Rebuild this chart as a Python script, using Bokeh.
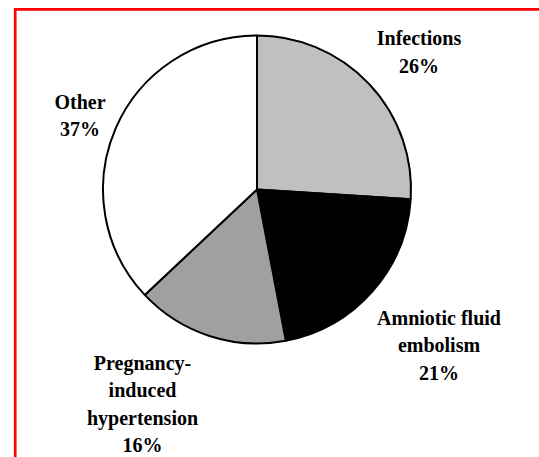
import numpy as np
from bokeh.plotting import figure
from bokeh.models import Range1d, ColumnDataSource
from bokeh.core.properties import value
from bokeh.embed import file_html
from bokeh.resources import INLINE

# ---- data ----
categories = ["Infections", "Amniotic fluid embolism", "Pregnancy-induced hypertension", "Other"]
label_text = ["Infections", "Amniotic fluid\nembolism", "Pregnancy-\ninduced\nhypertension", "Other"]
values = [26, 21, 16, 37]
colors = ["#c0c0c0", "#000000", "#a0a0a0", "#ffffff"]

# ---- layout (screen pixels from top-left) ----
W, H = 539, 457
pie_cx, pie_cy, r = 256.5, 189.0, 154.0
# label anchors: centre x, first-line baseline (screen px)
label_anchor = [(418.5, 45.5), (438.5, 325.0), (142.0, 370.0), (79.5, 109.0)]
line_step = 27.5
baseline_fix = 8.0

def sy(py):
    return H - py

vals = np.array(values, dtype=float)
frac = vals / vals.sum()
cum = np.cumsum(frac) * 2 * np.pi
start = np.pi / 2 - np.concatenate([[0.0], cum[:-1]])
end = np.pi / 2 - cum

wsrc = ColumnDataSource(dict(cat=categories, start=start, end=end, color=colors))

p = figure(width=W, height=H, x_range=Range1d(0, W), y_range=Range1d(0, H),
           x_axis_type=None, y_axis_type=None, output_backend="svg",
           toolbar_location=None, min_border=0, outline_line_color=None,
           background_fill_color="white", border_fill_color="white")
p.grid.visible = False

# red page frame (top and left edges visible)
p.line(x=[14.7, 14.7, W + 10], y=[-10, sy(8.8), sy(8.8)], line_color="#ff0000",
       line_width=2.7, line_join="miter")

p.wedge(x=pie_cx, y=sy(pie_cy), radius=r, start_angle="start", end_angle="end",
        direction="clock", fill_color="color", line_color="black",
        line_width=2, source=wsrc)

xs, ys, ts = [], [], []
for i, name in enumerate(label_text):
    lines = name.split("\n") + [f"{values[i]}%"]
    ax, ay = label_anchor[i]
    for j, ln in enumerate(lines):
        xs.append(ax)
        ys.append(sy(ay + j * line_step) + baseline_fix)
        ts.append(ln)

p.text(x=xs, y=ys, text=ts, text_font=value("Liberation Serif"),
       text_font_style="bold", text_font_size="20px", text_align="center",
       text_baseline="alphabetic", text_color="black")

open("out.html", "w").write(file_html(p, INLINE))
